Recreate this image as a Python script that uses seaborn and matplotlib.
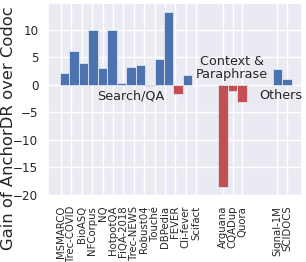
import numpy as np
import pandas as pd
import matplotlib
matplotlib.use("Agg")
import matplotlib.pyplot as plt
import seaborn as sns

# datasets grouped as in the figure
search_qa = ["MSMARCO", "Trec-COVID", "BioASQ", "NFCorpus", "NQ", "HotpotQA", "FiQA-2018",
             "Trec-NEWS", "Robust04", "Touché", "DBPedia", "FEVER", "Cli-fever", "Scifact"]
search_gain = [2.2, 6.1, 4.0, 10.0, 3.1, 10.0, 0.4, 3.2, 3.6, -0.2, 4.7, 13.3, -1.7, 1.7]

context = ["Arguana", "CQADup", "Quora"]
context_gain = [-18.6, -1.2, -3.2]

others = ["Signal-1M", "SCIDOCS"]
others_gain = [2.9, 1.0]

group_names = ["Search/QA", "Context &\nParaphrase", "Others"]

sns.set_theme(style="darkgrid")

# bar positions: one slot per dataset, with a gap between groups
gap = 3.75
pos_search = np.arange(len(search_qa))
pos_context = pos_search[-1] + gap + np.arange(len(context))
pos_others = pos_context[-1] + gap + np.arange(len(others))

df = pd.DataFrame({
    "pos": np.concatenate([pos_search, pos_context, pos_others]),
    "gain": search_gain + context_gain + others_gain,
    "name": search_qa + context + others,
})
df["sign"] = np.where(df["gain"] >= 0, "pos", "neg")

fig = plt.figure(figsize=(3.06, 2.62), dpi=100)
ax = fig.add_axes([0.157, 0.252, 0.83, 0.737])

sns.barplot(data=df, x="pos", y="gain", hue="sign", palette={"pos": "#4C72B0", "neg": "#C44E52"},
            native_scale=True, width=1.0, dodge=False, legend=False, saturation=1,
            edgecolor="#dfe6f2", linewidth=0.6, ax=ax)

# tick labels of the first group are spread a bit wider than the bars
tick_search = np.linspace(-0.4, 13.9, len(search_qa))
ticks = list(tick_search) + list(pos_context) + list(pos_others)
ax.set_xticks(ticks)
ax.set_xticklabels(df["name"], rotation=90, fontsize=7.3)
ax.tick_params(axis="x", pad=1)
ax.tick_params(axis="y", labelsize=8.6, pad=1)
ax.set_xlim(-1.77, 25.1)
ax.set_yticks([-20, -15, -10, -5, 0, 5, 10])
ax.set_xlabel("")

ax.set_ylabel("Gain of AnchorDR over Codoc", fontsize=11.8)
ax.yaxis.set_label_coords(-0.128, 0.35)

ax.text(7.0, -2.0, group_names[0], ha="center", va="center", fontsize=9.2)
ax.text(17.7, 3.1, group_names[1], ha="center", va="center", fontsize=9.2, linespacing=1.05)
ax.text(22.9, -2.0, group_names[2], ha="center", va="center", fontsize=9.2)

fig.savefig("out.png", dpi=100)
